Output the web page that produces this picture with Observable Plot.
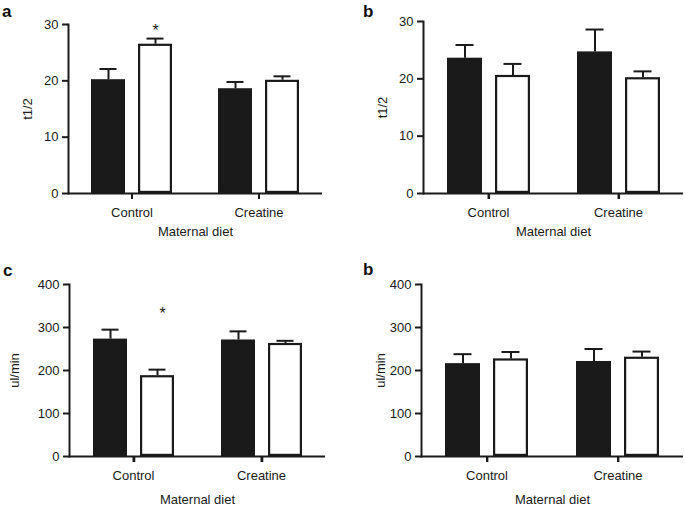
<!DOCTYPE html>
<html><head><meta charset="utf-8">
<script src="https://cdn.jsdelivr.net/npm/d3@7"></script>
<script src="https://cdn.jsdelivr.net/npm/@observablehq/plot@0.6"></script>
<style>
body{margin:0;background:#fff;}
#wrap{position:relative;width:685px;height:505px;overflow:hidden;background:#fff;font-family:"Liberation Sans",Arial,Helvetica,sans-serif;}
.lbl{position:absolute;font-weight:bold;font-size:17px;line-height:1;color:#111;}
#wrap svg{position:absolute;}
</style></head><body><div id="wrap"></div>
<script>
// categories
const diets = ["Control", "Creatine"];
const groups = ["Filled", "Open"];
const xLabel = "Maternal diet";

// panel a (t1/2)
const aFilled = [20.2, 18.6], aFilledErr = [1.9, 1.2];
const aOpen = [26.5, 20.1], aOpenErr = [1.0, 0.7];
const aStars = [{diet: "Control", group: "Open", y: 29.6}];
// panel b (t1/2)
const bFilled = [23.6, 24.7], bFilledErr = [2.3, 3.9];
const bOpen = [20.6, 20.2], bOpenErr = [2.0, 1.1];
// panel c (ul/min)
const cFilled = [273, 271], cFilledErr = [22, 20];
const cOpen = [188, 263], cOpenErr = [14, 6];
const cStars = [{diet: "Control", group: "Open", y: 340}];
// panel d (ul/min)
const dFilled = [216, 221], dFilledErr = [22, 29];
const dOpen = [227, 231], dOpenErr = [16, 13];

const tTicks = [0, 10, 20, 30];
const uTicks = [0, 100, 200, 300, 400];

function rows(f, fe, o, oe) {
  const out = [];
  diets.forEach((d, i) => {
    out.push({diet: d, group: groups[0], value: f[i], err: fe[i]});
    out.push({diet: d, group: groups[1], value: o[i], err: oe[i]});
  });
  return out;
}

const INK = "#1a1a1a";
const FONT = "'Liberation Sans', Arial, Helvetica, sans-serif";
const PAD_IN = 0.28, PAD_OUT = 0.49;

function panel(cfg) {
  const data = cfg.data;
  const innerH = cfg.height - cfg.mt - cfg.mb;
  const tickLen = (cfg.yDomain[1] - cfg.yDomain[0]) * 6 / innerH;      // 6px in data units
  const facetW = (cfg.width - cfg.ml - cfg.mr) / diets.length;
  const halfStep = facetW / (groups.length - PAD_IN + 2 * PAD_OUT) / 2;  // band centre -> facet centre
  const svg = Plot.plot({
    width: cfg.width, height: cfg.height,
    marginLeft: cfg.ml, marginRight: cfg.mr, marginTop: cfg.mt, marginBottom: cfg.mb,
    style: {fontFamily: FONT, fontSize: "13px", color: INK, background: "transparent", overflow: "visible"},
    fx: {domain: diets, padding: 0},
    x: {domain: groups, paddingInner: PAD_IN, paddingOuter: PAD_OUT, axis: null},
    y: {domain: cfg.yDomain},
    marks: [
      Plot.barY(data, {fx: "diet", x: "group", y: "value",
        fill: d => d.group === "Filled" ? INK : "white",
        stroke: INK, strokeWidth: 2.2, inset: 1.1}),
      Plot.ruleX(data, {fx: "diet", x: "group", y1: "value", y2: d => d.value + d.err, stroke: INK, strokeWidth: 2}),
      Plot.tickY(data, {fx: "diet", x: "group", y: d => d.value + d.err, stroke: INK, strokeWidth: 2, insetLeft: 8.5, insetRight: 8.5}),
      Plot.text(cfg.stars || [], {fx: "diet", x: "group", y: "y", text: () => "*", fontSize: 16, dx: cfg.starDx || 0, dy: 4, fill: INK}),
      Plot.ruleY([0], {stroke: INK, strokeWidth: 2}),
      // category tick marks below the x axis line, at each facet centre
      Plot.ruleX(data.filter(d => d.group === groups[0]), {fx: "diet", x: "group", y1: 0, y2: () => -tickLen,
        dx: halfStep, stroke: INK, strokeWidth: 2, clip: false}),
      Plot.frame({anchor: "left", facet: "super", stroke: INK, strokeWidth: 2}),
      Plot.axisY({ticks: cfg.yTicks, tickSize: 6, tickPadding: 4, strokeWidth: 2,
        label: cfg.yLabel, labelAnchor: "center", labelArrow: "none", labelOffset: cfg.ylo, fill: INK}),
      Plot.axisFx({anchor: "bottom", tickSize: 6, tickPadding: 8, strokeWidth: 2, label: xLabel, labelAnchor: "center",
        labelArrow: "none", labelOffset: cfg.xlo, fill: INK})
    ]
  });
  svg.style.left = cfg.left + "px";
  svg.style.top = cfg.top + "px";
  return svg;
}

const wrap = document.getElementById("wrap");
wrap.appendChild(panel({data: rows(aFilled, aFilledErr, aOpen, aOpenErr), stars: aStars,
  yDomain: [0, 30], yTicks: tTicks, yLabel: "t1/2",
  width: 340, height: 250, ml: 68, mr: 18, mt: 24, mb: 57, ylo: 46, xlo: 42, left: 0, top: 0}));
wrap.appendChild(panel({data: rows(bFilled, bFilledErr, bOpen, bOpenErr),
  yDomain: [0, 30], yTicks: tTicks, yLabel: "t1/2",
  width: 345, height: 250, ml: 83, mr: 2, mt: 21, mb: 57, ylo: 46, xlo: 42, left: 340, top: 0}));
wrap.appendChild(panel({data: rows(cFilled, cFilledErr, cOpen, cOpenErr), stars: cStars, starDx: 5,
  yDomain: [0, 400], yTicks: uTicks, yLabel: "ul/min",
  width: 340, height: 250, ml: 68, mr: 15, mt: 29, mb: 49, ylo: 60, xlo: 47, left: 0, top: 255}));
wrap.appendChild(panel({data: rows(dFilled, dFilledErr, dOpen, dOpenErr),
  yDomain: [0, 400], yTicks: uTicks, yLabel: "ul/min",
  width: 345, height: 250, ml: 80, mr: 2, mt: 29, mb: 49, ylo: 46, xlo: 47, left: 340, top: 255}));

const letters = [["a", 2, 3], ["b", 363, 3], ["c", 3, 262], ["b", 363, 261]];
letters.forEach(([t, l, tp]) => {
  const s = document.createElement("div");
  s.className = "lbl"; s.textContent = t;
  s.style.left = l + "px"; s.style.top = tp + "px";
  wrap.appendChild(s);
});
</script></body></html>
